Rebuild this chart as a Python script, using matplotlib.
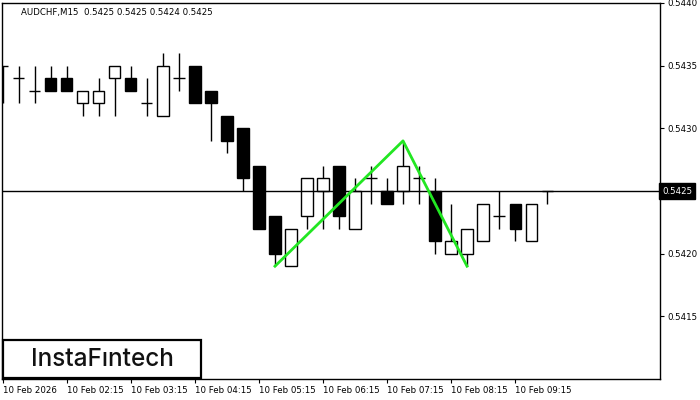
import matplotlib
matplotlib.use("Agg")
import matplotlib.pyplot as plt
from matplotlib.patches import Rectangle
import matplotlib.transforms as mtransforms

# AUDCHF M15 candles, 10 Feb 2026 from 01:15
opens = [0.5435, 0.5434, 0.5433, 0.5434, 0.5434, 0.5432, 0.5432, 0.5434, 0.5434, 0.5432,
         0.5431, 0.5434, 0.5435, 0.5433, 0.5431, 0.5430, 0.5427, 0.5423, 0.5419, 0.5423,
         0.5425, 0.5427, 0.5422, 0.5426, 0.5425, 0.5425, 0.5426, 0.5425, 0.5420, 0.5420,
         0.5421, 0.5423, 0.5424, 0.5421, 0.5425]
highs = [0.5435, 0.5435, 0.5435, 0.5435, 0.5435, 0.5433, 0.5434, 0.5435, 0.5435, 0.5434,
         0.5436, 0.5436, 0.5435, 0.5433, 0.5431, 0.5430, 0.5427, 0.5423, 0.5422, 0.5426,
         0.5427, 0.5427, 0.5426, 0.5427, 0.5426, 0.5429, 0.5427, 0.5426, 0.5424, 0.5422,
         0.5424, 0.5425, 0.5424, 0.5424, 0.5425]
lows = [0.5432, 0.5432, 0.5432, 0.5433, 0.5433, 0.5431, 0.5431, 0.5431, 0.5433, 0.5431,
        0.5431, 0.5433, 0.5432, 0.5429, 0.5428, 0.5425, 0.5422, 0.5419, 0.5419, 0.5422,
        0.5422, 0.5422, 0.5422, 0.5424, 0.5424, 0.5424, 0.5424, 0.5420, 0.5420, 0.5419,
        0.5421, 0.5422, 0.5421, 0.5421, 0.5424]
closes = [0.5435, 0.5434, 0.5433, 0.5433, 0.5433, 0.5433, 0.5433, 0.5435, 0.5433, 0.5432,
          0.5435, 0.5434, 0.5432, 0.5432, 0.5429, 0.5426, 0.5422, 0.5420, 0.5422, 0.5426,
          0.5426, 0.5423, 0.5425, 0.5426, 0.5424, 0.5427, 0.5426, 0.5421, 0.5421, 0.5422,
          0.5424, 0.5423, 0.5422, 0.5424, 0.5425]

# double bottom pattern line
pattern_idx = [17, 25, 29]
pattern_price = [0.5419, 0.5429, 0.5419]

last_price = 0.5425
y_ticks = [0.5415, 0.5420, 0.5430, 0.5435, 0.5440]
x_tick_idx = [0, 4, 8, 12, 16, 20, 24, 28, 32]
x_tick_labels = ["10 Feb 2026", "10 Feb 02:15", "10 Feb 03:15", "10 Feb 04:15",
                 "10 Feb 05:15", "10 Feb 06:15", "10 Feb 07:15", "10 Feb 08:15",
                 "10 Feb 09:15"]

INK = "#000000"
GREEN = "#22e622"
FONT = "DejaVu Sans"

fig = plt.figure(figsize=(7, 4), dpi=100)
fig.patch.set_facecolor("white")
ax = fig.add_axes([2 / 700, 21 / 400, 658 / 700, 376 / 400])
ax.set_xlim(-0.06, 41.06)
ax.set_ylim(0.5410, 0.5440)

bw = 0.69
for i, (o, h, l, c) in enumerate(zip(opens, highs, lows, closes)):
    ax.vlines(i, l, h, color=INK, lw=1, zorder=2)
    if c == o:
        ax.hlines(o, i - bw / 2, i + bw / 2, color=INK, lw=1, zorder=3)
    else:
        fc = "white" if c > o else INK
        ax.add_patch(Rectangle((i - bw / 2, min(o, c)), bw, abs(c - o),
                               fc=fc, ec=INK, lw=1, zorder=3))

ax.axhline(last_price, color=INK, lw=1, zorder=4)
ax.plot(pattern_idx, pattern_price, color=GREEN, lw=2, zorder=5)

for s in ax.spines.values():
    s.set_color(INK)
    s.set_linewidth(1)

ax.yaxis.tick_right()
ax.set_yticks(y_ticks)
ax.set_yticklabels([f"{v:.4f}" for v in y_ticks], fontsize=6.2, family=FONT)
ax.tick_params(axis="y", length=3, width=0.8, pad=2, colors=INK)
ax.set_xticks(x_tick_idx)
ax.set_xticklabels(x_tick_labels, fontsize=6.2, family=FONT, ha="left")
ax.tick_params(axis="x", length=3, width=0.8, pad=2, colors=INK)

# current price tag on the right axis
trans = mtransforms.blended_transform_factory(ax.transAxes, ax.transData)
ax.text(1.0035, last_price, "0.5425", transform=trans, ha="left", va="center",
        fontsize=6.2, family=FONT, color="white", clip_on=False,
        bbox=dict(boxstyle="square,pad=0.35", fc="black", ec="black"))

ax.text(19 / 658, 1 - 9 / 376, "AUDCHF,M15  0.5425 0.5425 0.5424 0.5425",
        transform=ax.transAxes, fontsize=6.2, family=FONT, color=INK,
        ha="left", va="center")

# logo box
fig.patches.append(Rectangle((3 / 700, 22 / 400), 198 / 700, 38 / 400,
                             transform=fig.transFigure, fc="white", ec=INK,
                             lw=1.6, zorder=10))
fig.text(102 / 700, 40 / 400, "InstaF\u0131ntech", fontsize=17.5, family="Inter",
         fontweight="medium", color="#111111", ha="center", va="center", zorder=11)

fig.savefig("out.png", dpi=100)
